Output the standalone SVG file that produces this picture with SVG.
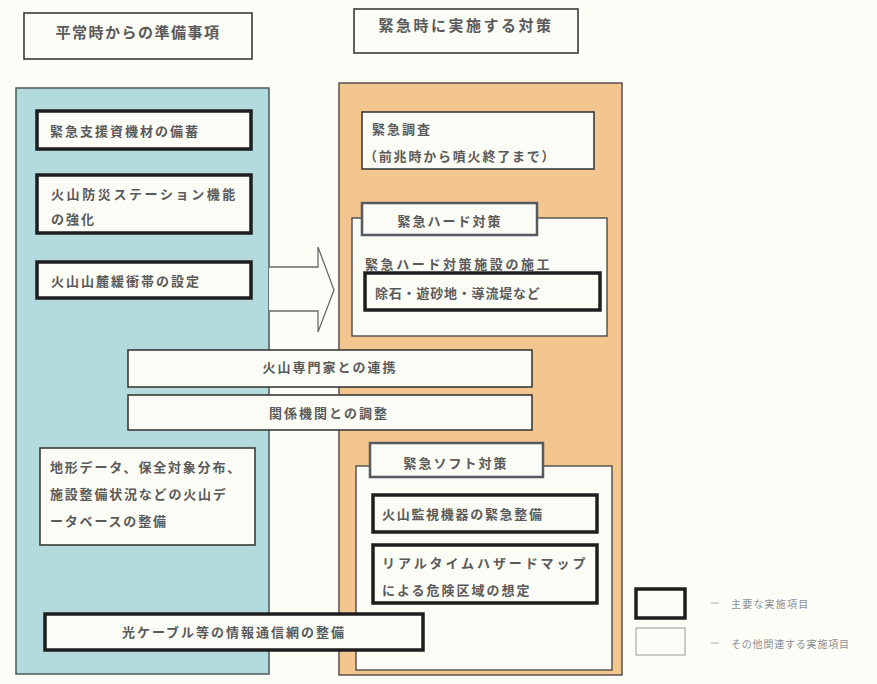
<svg xmlns="http://www.w3.org/2000/svg" width="877" height="684" viewBox="0 0 877 684">
<style>
text{font-family:"Noto Sans CJK JP","Noto Sans",sans-serif;font-weight:bold;fill:#5a5a5a;font-size:13px;letter-spacing:2px}
.hdr{font-size:15px;letter-spacing:1.5px}
.thick{fill:#fcfcf6;stroke:#1e1e1e;stroke-width:3.5}
.thin{fill:#fcfcf6;stroke:#3a3a3a;stroke-width:1.6}
.tab{fill:#fcfcf6;stroke:#555a60;stroke-width:2.5}
.cont{fill:#fcfcf6;stroke:#4a4a4a;stroke-width:1.4}
.leg{font-size:10px;letter-spacing:1.2px;fill:#8a8f95;font-weight:normal}
.mid{text-anchor:middle}
</style>
<rect x="0" y="0" width="877" height="684" fill="#fdfdf8"/>

<g id="col-left"><rect x="16" y="88" width="253" height="586" fill="#b3dadc" stroke="#4a5a5a" stroke-width="1.5"/></g>
<g id="col-right"><rect x="339" y="83" width="283" height="592" fill="#f2c68e" stroke="#5a5050" stroke-width="1.5"/></g>

<g id="header-left"><rect x="24" y="13" width="228" height="46" class="thin"/><text x="138" y="31" class="hdr mid" dominant-baseline="central">平常時からの準備事項</text></g>
<g id="header-right"><rect x="354" y="9" width="224" height="44" class="thin"/><text x="466" y="24" class="hdr mid" dominant-baseline="central" style="letter-spacing:2.5px">緊急時に実施する対策</text></g>

<g id="l1"><rect x="37" y="111" width="214" height="38" class="thick"/><text x="50" y="130" dominant-baseline="central">緊急支援資機材の備蓄</text></g>
<g id="l2"><rect x="37" y="175" width="214" height="58" class="thick"/><text x="51" y="193" dominant-baseline="central" style="letter-spacing:2.6px">火山防災ステーション機能</text><text x="51" y="218" dominant-baseline="central">の強化</text></g>
<g id="l3"><rect x="37" y="262" width="214" height="36" class="thick"/><text x="51" y="280" dominant-baseline="central">火山山麓緩衝帯の設定</text></g>

<g id="r1"><rect x="362" y="112" width="232" height="57" class="thin"/><text x="372" y="128" dominant-baseline="central">緊急調査</text><text x="364" y="155" dominant-baseline="central" style="letter-spacing:1.8px">（前兆時から噴火終了まで）</text></g>

<g id="hard-container"><rect x="352" y="218" width="255" height="118" class="cont"/></g>
<g id="hard-tab"><rect x="362" y="203" width="175" height="32" class="tab"/><text x="450" y="220" class="mid" dominant-baseline="central">緊急ハード対策</text></g>
<g id="r2"><text x="365" y="263" dominant-baseline="central" style="letter-spacing:2.6px">緊急ハード対策施設の施工</text></g>
<g id="r3"><rect x="365" y="273" width="235" height="37" class="thick"/><text x="375" y="292" dominant-baseline="central" style="letter-spacing:0.8px">除石・遊砂地・導流堤など</text></g>

<g id="connectors"><path d="M269,267 L318,267 L318,247 L334,290 L318,332 L318,311 L269,311" fill="#fcfcf6" stroke="#6a6a6a" stroke-width="1.3"/></g>

<g id="m1"><rect x="128" y="350" width="404" height="37" class="thin"/><text x="330" y="366" class="mid" dominant-baseline="central">火山専門家との連携</text></g>
<g id="m2"><rect x="128" y="395" width="404" height="35" class="thin"/><text x="329" y="412" class="mid" dominant-baseline="central">関係機関との調整</text></g>

<g id="l4"><rect x="40" y="448" width="215" height="97" class="thin"/><text x="50" y="466" dominant-baseline="central" style="letter-spacing:1.8px">地形データ、保全対象分布、</text><text x="50" y="493" dominant-baseline="central" style="letter-spacing:1.8px">施設整備状況などの火山デ</text><text x="50" y="520" dominant-baseline="central" style="letter-spacing:1.8px">ータベースの整備</text></g>

<g id="soft-container"><rect x="356" y="466" width="256" height="204" class="cont"/></g>
<g id="soft-tab"><rect x="370" y="443" width="173" height="34" class="tab"/><text x="456" y="462" class="mid" dominant-baseline="central">緊急ソフト対策</text></g>
<g id="r4"><rect x="373" y="495" width="224" height="37" class="thick"/><text x="382" y="513" dominant-baseline="central" style="letter-spacing:1.7px">火山監視機器の緊急整備</text></g>
<g id="r5"><rect x="373" y="545" width="224" height="58" class="thick"/><text x="382" y="562" dominant-baseline="central" style="letter-spacing:2.9px">リアルタイムハザードマップ</text><text x="382" y="589" dominant-baseline="central">による危険区域の想定</text></g>

<g id="l5"><rect x="45" y="614" width="378" height="36" class="thick"/><text x="234" y="631" class="mid" dominant-baseline="central">光ケーブル等の情報通信網の整備</text></g>

<g id="legend">
<rect x="636" y="589" width="49" height="29" fill="#fdfdf8" stroke="#1e1e1e" stroke-width="3.5"/>
<rect x="636" y="628" width="49" height="27" fill="#fdfdf8" stroke="#9a9a9a" stroke-width="1"/>
<line x1="711" y1="603" x2="719" y2="603" stroke="#b0b0b0" stroke-width="1"/>
<line x1="711" y1="643" x2="719" y2="643" stroke="#b0b0b0" stroke-width="1"/>
<text x="731" y="603" class="leg" dominant-baseline="central">主要な実施項目</text>
<text x="731" y="643" class="leg" dominant-baseline="central" style="letter-spacing:0.8px">その他関連する実施項目</text>
</g>
</svg>
